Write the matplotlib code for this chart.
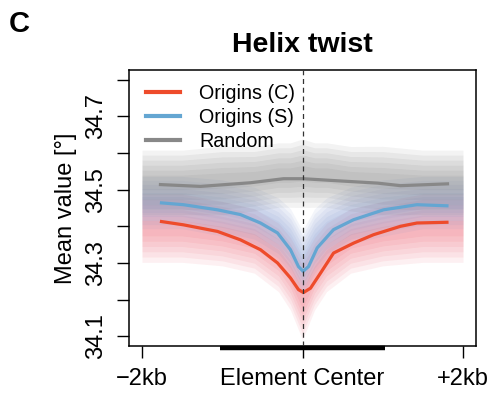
import numpy as np
import matplotlib
matplotlib.use("Agg")
import matplotlib.pyplot as plt
import matplotlib.transforms as mtransforms

plt.rcParams['font.family'] = ['Liberation Sans', 'DejaVu Sans']

# ---- data ----
line_x_red = [-1757, -1483, -1059, -773, -523, -312, -150, -50, 12, 100, 224, 387, 636, 885, 1221, 1426, 1800]
line_y_red = [34.413, 34.404, 34.386, 34.363, 34.336, 34.300, 34.259, 34.227, 34.219, 34.231, 34.272, 34.327,
              34.354, 34.377, 34.400, 34.409, 34.411]

line_x_blue = [-1757, -1483, -1059, -773, -523, -312, -150, -50, 8, 75, 183, 387, 636, 1010, 1426, 1800]
line_y_blue = [34.464, 34.459, 34.445, 34.432, 34.409, 34.382, 34.336, 34.290, 34.277, 34.290, 34.341, 34.391,
               34.418, 34.445, 34.459, 34.456]

line_x_gray = [-1770, -1271, -648, -237, 10, 386, 935, 1221, 1807]
line_y_gray = [34.514, 34.509, 34.519, 34.530, 34.530, 34.525, 34.518, 34.511, 34.516]

cloud_x = [-2000, -1500, -1000, -600, -300, -150, 0, 150, 300, 600, 1000, 1500, 2000]
cloud_red_hi = [34.48, 34.48, 34.46, 34.44, 34.40, 34.36, 34.30, 34.36, 34.40, 34.44, 34.46, 34.48, 34.48]
cloud_red_lo = [34.31, 34.31, 34.30, 34.28, 34.23, 34.18, 34.10, 34.18, 34.23, 34.28, 34.30, 34.31, 34.31]
cloud_blue_hi = [34.53, 34.53, 34.52, 34.50, 34.47, 34.44, 34.38, 34.44, 34.47, 34.50, 34.52, 34.53, 34.53]
cloud_blue_lo = [34.40, 34.40, 34.38, 34.36, 34.32, 34.28, 34.22, 34.28, 34.32, 34.36, 34.38, 34.40, 34.40]
cloud_gray_hi = [34.60, 34.60, 34.61, 34.61, 34.62, 34.62, 34.63, 34.62, 34.62, 34.61, 34.61, 34.60, 34.60]
cloud_gray_lo = [34.44, 34.44, 34.44, 34.45, 34.46, 34.46, 34.46, 34.46, 34.46, 34.45, 34.44, 34.44, 34.44]

series_labels = ['Origins (C)', 'Origins (S)', 'Random']
x_ticks = [-2000, 0, 2000]
x_ticklabels = ['\u22122kb', 'Element Center', '+2kb']
y_ticks = [34.1, 34.2, 34.3, 34.4, 34.5, 34.6, 34.7, 34.8]
y_ticklabels = ['34.1', '', '34.3', '', '34.5', '', '34.7', '']
element_span = [-1030, 1030]

# ---- styling ----
c_red, c_blue, c_gray = '#EE4B2B', '#64A6D2', '#888888'
d_red, d_blue, d_gray = '#EE4A5C', '#6A84C8', '#666666'

fig = plt.figure(figsize=(4.9, 3.95), dpi=100)
ax = fig.add_axes([129/490, 1-346/395, 347/490, 276/395])


def cloud(x, lo, hi, color, levels=6, alpha=0.08):
    x = np.asarray(x); lo = np.asarray(lo); hi = np.asarray(hi)
    c = (lo + hi) / 2
    h = (hi - lo) / 2
    for f in np.linspace(0.25, 1.1, levels):
        ax.fill_between(x, c - f * h, c + f * h, color=color, alpha=alpha, lw=0, zorder=1)


cloud(cloud_x, cloud_red_lo, cloud_red_hi, d_red)
cloud(cloud_x, cloud_blue_lo, cloud_blue_hi, d_blue)
cloud(cloud_x, cloud_gray_lo, cloud_gray_hi, d_gray)

ax.plot(line_x_red, line_y_red, color=c_red, lw=2.3, label=series_labels[0], zorder=3)
ax.plot(line_x_blue, line_y_blue, color=c_blue, lw=2.3, label=series_labels[1], zorder=3)
ax.plot(line_x_gray, line_y_gray, color=c_gray, lw=2.3, label=series_labels[2], zorder=3)

ax.axvline(0, color='#333333', lw=0.9, ls=(0, (4, 3)), zorder=4)

ax.set_xlim(-2162, 2162)
ax.set_ylim(34.073, 34.827)
ax.set_xticks(x_ticks)
ax.set_xticklabels(x_ticklabels)
ax.set_yticks(y_ticks)
ax.set_yticklabels(y_ticklabels, rotation=90, va='center')
ax.tick_params(axis='both', direction='out', length=8.5, width=1.0, labelsize=17, color='black')
ax.tick_params(axis='y', pad=7)
ax.tick_params(axis='x', pad=7)
for s in ax.spines.values():
    s.set_linewidth(1.1)

ax.set_ylabel('Mean value [°]', fontsize=17, labelpad=6)
ax.set_title('Helix twist', fontsize=20.5, fontweight='bold', pad=13)
fig.text(9/490, 1-32/395, 'C', fontsize=21, fontweight='bold', va='baseline', ha='left')

trans = mtransforms.blended_transform_factory(ax.transData, ax.transAxes)
ax.plot(element_span, [-0.008, -0.008], color='black', lw=3.2, transform=trans, clip_on=False,
        solid_capstyle='butt', zorder=5)

leg = ax.legend(loc='upper left', bbox_to_anchor=(0.02, 0.985), frameon=False, fontsize=14.2,
                handlelength=1.75, handletextpad=0.95, labelspacing=0.25, borderaxespad=0.3,
                borderpad=0.2)
for l in leg.get_lines():
    l.set_linewidth(3)

fig.savefig('out.png', dpi=100)
